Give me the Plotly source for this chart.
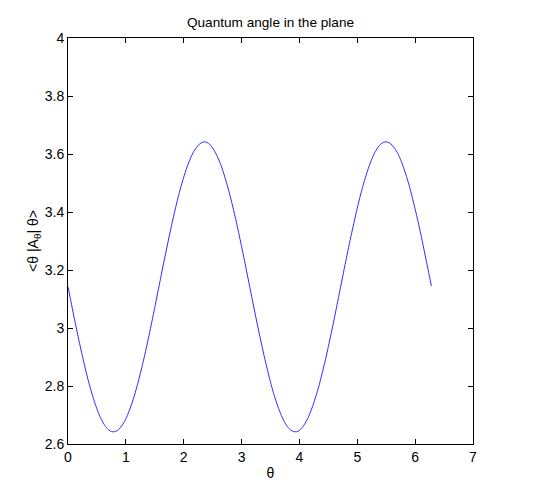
import plotly.graph_objects as go

theta = [0.0, 0.05, 0.1, 0.15, 0.2, 0.25, 0.3, 0.35, 0.4, 0.45,
         0.5, 0.55, 0.6, 0.65, 0.7, 0.75, 0.8, 0.85, 0.9, 0.95,
         1.0, 1.05, 1.1, 1.15, 1.2, 1.25, 1.3, 1.35, 1.4, 1.45,
         1.5, 1.55, 1.6, 1.65, 1.7, 1.75, 1.8, 1.85, 1.9, 1.95,
         2.0, 2.05, 2.1, 2.15, 2.2, 2.25, 2.3, 2.35, 2.4, 2.45,
         2.5, 2.55, 2.6, 2.65, 2.7, 2.75, 2.8, 2.85, 2.9, 2.95,
         3.0, 3.05, 3.1, 3.15, 3.2, 3.25, 3.3, 3.35, 3.4, 3.45,
         3.5, 3.55, 3.6, 3.65, 3.7, 3.75, 3.8, 3.85, 3.9, 3.95,
         4.0, 4.05, 4.1, 4.15, 4.2, 4.25, 4.3, 4.35, 4.4, 4.45,
         4.5, 4.55, 4.6, 4.65, 4.7, 4.75, 4.8, 4.85, 4.9, 4.95,
         5.0, 5.05, 5.1, 5.15, 5.2, 5.25, 5.3, 5.35, 5.4, 5.45,
         5.5, 5.55, 5.6, 5.65, 5.7, 5.75, 5.8, 5.85, 5.9, 5.95,
         6.0, 6.05, 6.1, 6.15, 6.2, 6.25, 6.28]
expect = [3.142, 3.092, 3.042, 2.994, 2.947, 2.902, 2.859, 2.819, 2.783, 2.750,
          2.721, 2.696, 2.676, 2.660, 2.649, 2.643, 2.642, 2.646, 2.655, 2.669,
          2.687, 2.710, 2.738, 2.769, 2.804, 2.843, 2.884, 2.928, 2.974, 3.022,
          3.071, 3.121, 3.171, 3.221, 3.269, 3.317, 3.363, 3.407, 3.448, 3.486,
          3.520, 3.551, 3.577, 3.600, 3.617, 3.630, 3.638, 3.642, 3.640, 3.633,
          3.621, 3.604, 3.583, 3.558, 3.528, 3.494, 3.457, 3.417, 3.374, 3.329,
          3.281, 3.233, 3.183, 3.133, 3.083, 3.034, 2.986, 2.940, 2.895, 2.853,
          2.813, 2.777, 2.745, 2.717, 2.693, 2.673, 2.658, 2.648, 2.643, 2.642,
          2.647, 2.657, 2.672, 2.691, 2.715, 2.743, 2.775, 2.810, 2.850, 2.891,
          2.936, 2.982, 3.030, 3.080, 3.130, 3.180, 3.229, 3.278, 3.325, 3.370,
          3.414, 3.454, 3.492, 3.525, 3.556, 3.582, 3.604, 3.621, 3.633, 3.640,
          3.642, 3.639, 3.631, 3.618, 3.602, 3.580, 3.553, 3.523, 3.489, 3.451,
          3.410, 3.367, 3.322, 3.273, 3.225, 3.175, 3.145]
x_ticks = [0, 1, 2, 3, 4, 5, 6, 7]
y_ticks = [2.6, 2.8, 3.0, 3.2, 3.4, 3.6, 3.8, 4.0]
y_tick_labels = ["2.6", "2.8", "3", "3.2", "3.4", "3.6", "3.8", "4"]

font_family = "Liberation Sans, Arial, Helvetica, sans-serif"

fig = go.Figure()
fig.add_trace(go.Scatter(
    x=theta, y=expect, mode="lines",
    line=dict(color="#2b2bff", width=1, shape="spline", smoothing=0.6),
    showlegend=False, hoverinfo="skip",
))

axis_common = dict(
    showline=True, linecolor="#000000", linewidth=1, mirror="ticks",
    ticks="inside", ticklen=5, tickcolor="#000000", tickwidth=1,
    showgrid=False, zeroline=False,
    tickfont=dict(family=font_family, size=14, color="#000000"),
)

# The page body adds an 8px margin, so the figure is sized to fit the window.
fig.update_layout(
    width=546, height=492,
    margin=dict(l=60, r=81, t=30, b=56),
    paper_bgcolor="#ffffff", plot_bgcolor="#ffffff",
    title=dict(text="Quantum angle in the plane", x=0.5, xanchor="center",
               xref="paper", y=1 - 14 / 492, yanchor="middle",
               font=dict(family=font_family, size=13.6, color="#000000")),
    xaxis=dict(range=[0, 7], tickvals=x_ticks,
               title=dict(text="θ", standoff=4,
                          font=dict(family=font_family, size=14, color="#000000")),
               **axis_common),
    yaxis=dict(range=[2.6, 4.0], tickvals=y_ticks, ticktext=y_tick_labels,
               title=dict(text="&lt;θ |A<sub>θ</sub>| θ&gt;", standoff=2,
                          font=dict(family=font_family, size=14, color="#000000")),
               **axis_common),
)

fig.write_html("out.html")
